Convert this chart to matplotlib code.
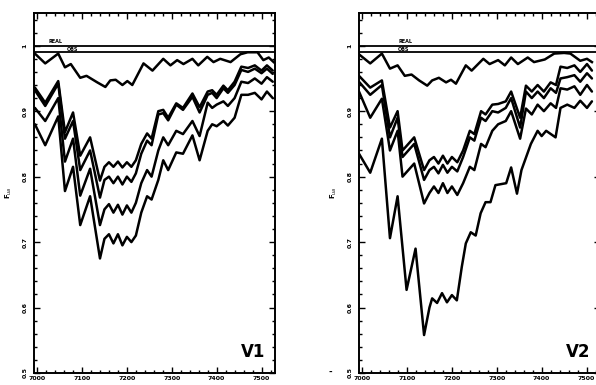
import matplotlib
matplotlib.use("Agg")
import matplotlib.pyplot as plt
from matplotlib.ticker import MultipleLocator

# ---- data ----
# left panel (V1)
lx = [6995, 7018, 7047, 7062, 7080, 7096, 7118, 7140, 7150, 7160, 7170, 7180, 7190, 7200, 7210,
      7220, 7232, 7245, 7255, 7270, 7281, 7292, 7310, 7325, 7346, 7362, 7380, 7390, 7400, 7415,
      7425, 7440, 7455, 7470, 7485, 7500, 7512, 7525]
v1_a = [.936, .913, .946, .868, .898, .832, .86, .794, .815, .822, .815, .823, .814, .822, .815,
        .825, .85, .866, .858, .90, .902, .89, .912, .905, .927, .906, .93, .932, .925, .939,
        .932, .945, .968, .966, .97, .962, .97, .962]
v1_b = [.932, .908, .942, .858, .885, .81, .84, .768, .795, .80, .79, .80, .788, .80, .792,
        .805, .835, .855, .848, .895, .897, .886, .91, .902, .922, .898, .925, .928, .92, .935,
        .928, .94, .963, .96, .965, .958, .965, .957]
v1_c = [.905, .885, .92, .823, .858, .771, .812, .726, .75, .758, .745, .757, .742, .756, .745,
        .76, .79, .81, .80, .84, .86, .848, .87, .865, .885, .862, .913, .905, .91, .915,
        .908, .92, .945, .943, .95, .942, .952, .945]
v1_d = [.88, .848, .892, .778, .815, .726, .77, .675, .705, .712, .698, .712, .695, .708, .70,
        .71, .745, .77, .765, .795, .825, .81, .837, .835, .863, .825, .87, .88, .877, .885,
        .878, .89, .925, .925, .928, .918, .93, .92]
v1_wx = [6995, 7018, 7047, 7062, 7075, 7096, 7110, 7134, 7152, 7163, 7175, 7190, 7201, 7212, 7237,
         7257, 7281, 7297, 7312, 7326, 7346, 7359, 7379, 7393, 7408, 7431, 7453, 7469, 7491, 7504,
         7516, 7527]
v1_w = [.988, .973, .988, .967, .972, .951, .954, .944, .937, .947, .948, .94, .946, .94, .973,
        .962, .98, .97, .978, .972, .98, .97, .983, .975, .98, .975, .987, .99, .99, .978,
        .982, .975]

# right panel (V2)
rx = [6993, 7018, 7044, 7062, 7079, 7090, 7116, 7138, 7150, 7160, 7170, 7180, 7190, 7200, 7212,
      7225, 7240, 7250, 7265, 7275, 7290, 7303, 7320, 7332, 7352, 7365, 7378, 7391, 7405, 7420,
      7432, 7442, 7457, 7473, 7486, 7501, 7512]
v2_a = [.954, .936, .947, .875, .90, .84, .86, .81, .825, .83, .82, .832, .82, .83, .822,
        .84, .87, .865, .90, .895, .91, .911, .915, .93, .89, .939, .93, .94, .93, .944,
        .94, .968, .966, .97, .96, .972, .962]
v2_b = [.945, .925, .94, .86, .89, .83, .85, .795, .81, .815, .805, .818, .806, .815, .808,
        .83, .86, .855, .89, .885, .90, .898, .905, .92, .875, .93, .92, .93, .92, .935,
        .928, .95, .952, .955, .945, .958, .95]
v2_c = [.93, .89, .919, .84, .87, .80, .82, .759, .775, .785, .775, .79, .775, .785, .772,
        .79, .815, .81, .85, .845, .87, .88, .885, .90, .858, .904, .895, .91, .90, .912,
        .905, .935, .933, .938, .925, .94, .93]
v2_ex = [6993, 7018, 7044, 7062, 7079, 7099, 7119, 7138, 7150, 7156, 7167, 7178, 7189, 7200, 7211,
         7222, 7231, 7242, 7253, 7264, 7275, 7286, 7297, 7321, 7332, 7345, 7355, 7376, 7391, 7400,
         7410, 7431, 7442, 7457, 7473, 7486, 7501, 7512]
v2_e = [.835, .806, .858, .706, .77, .627, .69, .558, .60, .614, .607, .622, .608, .619, .611,
        .662, .698, .715, .71, .744, .761, .761, .787, .79, .814, .774, .81, .85, .87, .862,
        .87, .86, .905, .91, .905, .916, .905, .915]
v2_wx = [6991, 7018, 7044, 7062, 7079, 7095, 7110, 7127, 7145, 7156, 7171, 7187, 7198, 7209, 7231,
         7244, 7270, 7284, 7303, 7318, 7332, 7347, 7369, 7383, 7407, 7428, 7450, 7464, 7486, 7501,
         7512]
v2_w = [.988, .973, .988, .965, .97, .954, .956, .947, .939, .947, .951, .944, .948, .942, .97,
        .962, .98, .972, .978, .97, .982, .972, .982, .975, .979, .988, .989, .988, .977, .98,
        .975]

real_level = 1.0
obs_level = 0.99
xticks = [7000, 7100, 7200, 7300, 7400, 7500]
yticks = [0.5, 0.6, 0.7, 0.8, 0.9, 1.0]
yticklabels = ["0.5", "0.6", "0.7", "0.8", "0.9", "1"]

fig = plt.figure(figsize=(5.96, 3.85), dpi=100)
ax1 = fig.add_axes([34 / 596, 12 / 385, 241 / 596, 360 / 385])
ax2 = fig.add_axes([359 / 596, 12 / 385, 241 / 596, 360 / 385])


def draw_panel(ax, curves, weak, name, lab_x, obs_dx):
    lw = 1.8
    for xs, ys in curves:
        ax.plot(xs, ys, color="black", lw=lw, solid_joinstyle="round", solid_capstyle="round")
    ax.plot(weak[0], weak[1], color="black", lw=lw, solid_joinstyle="round")
    ax.axhline(real_level, color="black", lw=1.3)
    ax.axhline(obs_level, color="black", lw=1.3)
    ax.text(lab_x, real_level + 0.002, "REAL", fontsize=3.5, fontweight="bold", va="bottom")
    ax.text(lab_x + obs_dx, obs_level + 0.001, "OBS", fontsize=3.5,
            fontweight="bold", va="bottom")
    ax.text(7455, 0.532, name, fontsize=12, fontweight="bold", va="center")

    ax.set_xlim(6993, 7530)
    ax.set_ylim(0.5, 1.05)
    ax.set_xticks(xticks)
    ax.set_xticklabels([str(t) for t in xticks], fontsize=4.5, fontweight="bold")
    ax.set_yticks(yticks)
    ax.set_yticklabels(yticklabels, fontsize=4.5, fontweight="bold", rotation=90, va="center")
    ax.xaxis.set_minor_locator(MultipleLocator(20))
    ax.yaxis.set_minor_locator(MultipleLocator(0.02))
    ax.tick_params(which="both", direction="in", top=True, right=True, width=1)
    ax.tick_params(which="major", length=4)
    ax.tick_params(which="minor", length=2)
    ax.tick_params(axis="x", which="major", pad=2)
    ax.tick_params(axis="y", which="major", pad=4.5)
    for s in ax.spines.values():
        s.set_linewidth(1.4)
    ax.set_ylabel(r"F$_{ua}$", fontsize=5, fontweight="bold", labelpad=6)


draw_panel(ax1, [(lx, v1_a), (lx, v1_b), (lx, v1_c), (lx, v1_d)], (v1_wx, v1_w), "V1", 7025, 40)
draw_panel(ax2, [(rx, v2_a), (rx, v2_b), (rx, v2_c), (v2_ex, v2_e)], (v2_wx, v2_w), "V2", 7080, 0)

# stray dash left of the right panel in the scan
fig.text(330 / 596, 1 - 372 / 385, "-", fontsize=6, fontweight="bold", ha="center", va="center")

fig.savefig("out.png", dpi=100)
